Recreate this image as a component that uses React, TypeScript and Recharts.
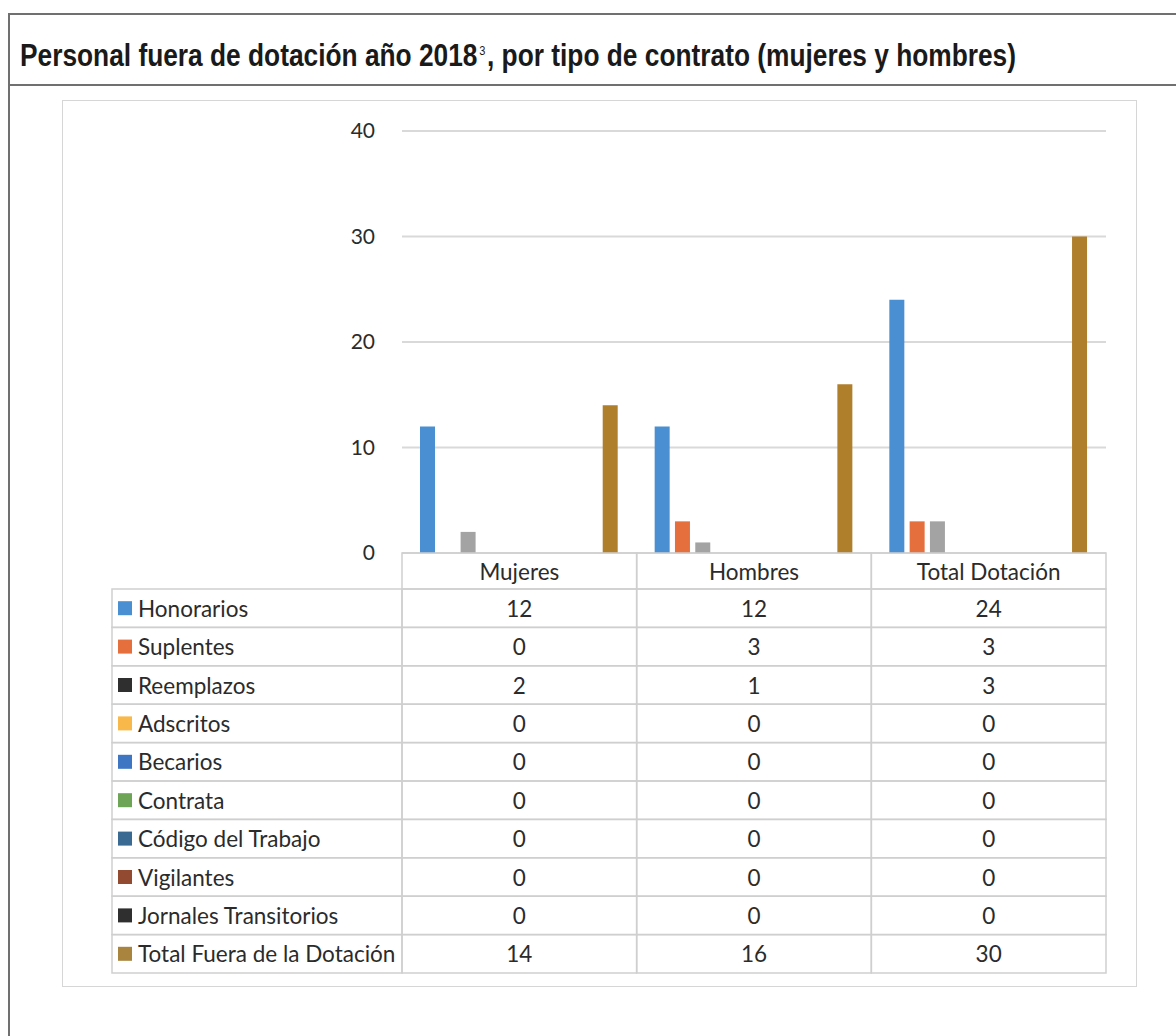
import React, { useLayoutEffect, useRef, useState } from 'react';
import { BarChart, Bar, XAxis, YAxis, CartesianGrid } from 'recharts';

const categories = ['Mujeres', 'Hombres', 'Total Dotación'];
const seriesNames = [
  'Honorarios',
  'Suplentes',
  'Reemplazos',
  'Adscritos',
  'Becarios',
  'Contrata',
  'Código del Trabajo',
  'Vigilantes',
  'Jornales Transitorios',
  'Total Fuera de la Dotación',
];
const honorarios = [12, 12, 24];
const suplentes = [0, 3, 3];
const reemplazos = [2, 1, 3];
const adscritos = [0, 0, 0];
const becarios = [0, 0, 0];
const contrata = [0, 0, 0];
const codigoTrabajo = [0, 0, 0];
const vigilantes = [0, 0, 0];
const jornales = [0, 0, 0];
const totalFuera = [14, 16, 30];
const yTicks = [0, 10, 20, 30, 40];

const seriesValues = [
  honorarios, suplentes, reemplazos, adscritos, becarios,
  contrata, codigoTrabajo, vigilantes, jornales, totalFuera,
];
const barColors = [
  '#4A8FD2', '#E5703E', '#A3A3A3', '#F8B84A', '#3F76C4',
  '#6EA455', '#3A6A92', '#924A30', '#3a3a3a', '#B07F2C',
];
const keyColors = [
  '#4A8FD2', '#E5703E', '#2f2f2f', '#F8B84A', '#3F76C4',
  '#6EA455', '#3A6A92', '#924A30', '#2f2f2f', '#A8843F',
];

const data = categories.map((name, i) => {
  const row: Record<string, string | number> = { name };
  seriesValues.forEach((vals, s) => {
    row[`s${s}`] = vals[i];
  });
  return row;
});

// layout
const W = 1176;
const H = 1036;
const PLOT_LEFT = 402;
const PLOT_RIGHT = 1106;
const PLOT_TOP = 131;
const PLOT_BOTTOM = 553;
const TABLE_BOTTOM = 973;
const HEADER_H = 36;
const LABEL_LEFT = 112;
const BAND = (PLOT_RIGHT - PLOT_LEFT) / categories.length;
const ROW_H = (TABLE_BOTTOM - PLOT_BOTTOM - HEADER_H) / seriesNames.length;
const FONT = "Lato, 'Open Sans', sans-serif";
const FS = 22.5;
const TEXT = '#2b2b2b';
const LINE = '#cfcfcf';
const TITLE_FONT = "'Liberation Sans', Arial, sans-serif";
const TITLE_W = 996;

const TableTick = (props: any) => {
  const { x, y, payload, index } = props;
  const left = x - BAND / 2;
  const rowsTop = y + HEADER_H;
  return (
    <g>
      <rect x={left} y={y} width={BAND} height={HEADER_H} fill="none" stroke={LINE} strokeWidth={1.5} />
      <text x={x} y={y + HEADER_H / 2} textAnchor="middle" dominantBaseline="central"
        fontFamily={FONT} fontSize={FS} fill={TEXT}>
        {payload.value}
      </text>
      {seriesValues.map((vals, s) => (
        <g key={s}>
          <rect x={left} y={rowsTop + s * ROW_H} width={BAND} height={ROW_H}
            fill="none" stroke={LINE} strokeWidth={1.5} />
          <text x={x} y={rowsTop + s * ROW_H + ROW_H / 2} textAnchor="middle" dominantBaseline="central"
            fontFamily={FONT} fontSize={FS} fill={TEXT}>
            {vals[index]}
          </text>
        </g>
      ))}
      {index === 0 &&
        seriesNames.map((name, s) => (
          <g key={`l${s}`}>
            <rect x={LABEL_LEFT} y={rowsTop + s * ROW_H} width={left - LABEL_LEFT} height={ROW_H}
              fill="none" stroke={LINE} strokeWidth={1.5} />
            <rect x={LABEL_LEFT + 6} y={rowsTop + s * ROW_H + ROW_H / 2 - 7} width={14} height={14}
              fill={keyColors[s]} />
            <text x={LABEL_LEFT + 26} y={rowsTop + s * ROW_H + ROW_H / 2} dominantBaseline="central"
              fontFamily={FONT} fontSize={FS} fill={TEXT}>
              {name}
            </text>
          </g>
        ))}
    </g>
  );
};

const Title = () => {
  const ref = useRef<HTMLDivElement>(null);
  const [scale, setScale] = useState(0.85);
  useLayoutEffect(() => {
    if (ref.current) setScale(TITLE_W / ref.current.offsetWidth);
  }, []);
  return (
    <div
      ref={ref}
      style={{
        position: 'absolute', left: 20, top: 38, whiteSpace: 'nowrap',
        fontFamily: TITLE_FONT, fontWeight: 'bold', fontSize: 31, lineHeight: '36px', color: '#1a1a1a',
        transformOrigin: 'left top', transform: `scaleX(${scale})`,
      }}
    >
      Personal fuera de dotación año 2018
      <span style={{ fontSize: 13, fontWeight: 'normal', verticalAlign: 'super', lineHeight: 0, padding: '0 2px' }}>3</span>
      , por tipo de contrato (mujeres y hombres)
    </div>
  );
};

export default function App() {
  return (
    <div style={{ position: 'absolute', left: 0, top: 0, width: W, height: H, background: '#fff', overflow: 'hidden' }}>
      {/* outer frame */}
      <div style={{ position: 'absolute', left: 8, top: 13, width: W, height: H, borderLeft: '2px solid #707070', borderTop: '2px solid #707070' }} />
      <div style={{ position: 'absolute', left: 8, top: 84, width: W, borderTop: '2px solid #707070' }} />
      <Title />
      {/* chart box */}
      <div style={{ position: 'absolute', left: 62, top: 100, width: 1075, height: 887, border: '1.5px solid #d6d6d6', boxSizing: 'border-box' }} />
      <div style={{ position: 'absolute', left: 0, top: 0 }}>
        <BarChart
          width={W}
          height={H}
          data={data}
          barSize={15}
          barGap={5.3}
          margin={{ top: PLOT_TOP, right: W - PLOT_RIGHT, bottom: H - TABLE_BOTTOM, left: 0 }}
        >
          <CartesianGrid vertical={false} stroke="#d9d9d9" strokeWidth={2} />
          <XAxis
            dataKey="name"
            axisLine={false}
            tickLine={false}
            tickSize={0}
            tickMargin={0}
            height={TABLE_BOTTOM - PLOT_BOTTOM}
            interval={0}
            tick={<TableTick />}
          />
          <YAxis
            width={PLOT_LEFT}
            domain={[0, 40]}
            ticks={yTicks}
            axisLine={false}
            tickLine={false}
            tickSize={0}
            tickMargin={27}
            tick={{ fontFamily: FONT, fontSize: 21, fill: TEXT }}
          />
          {seriesNames.map((name, s) => (
            <Bar key={name} dataKey={`s${s}`} name={name} fill={barColors[s]} isAnimationActive={false} />
          ))}
        </BarChart>
      </div>
    </div>
  );
}
